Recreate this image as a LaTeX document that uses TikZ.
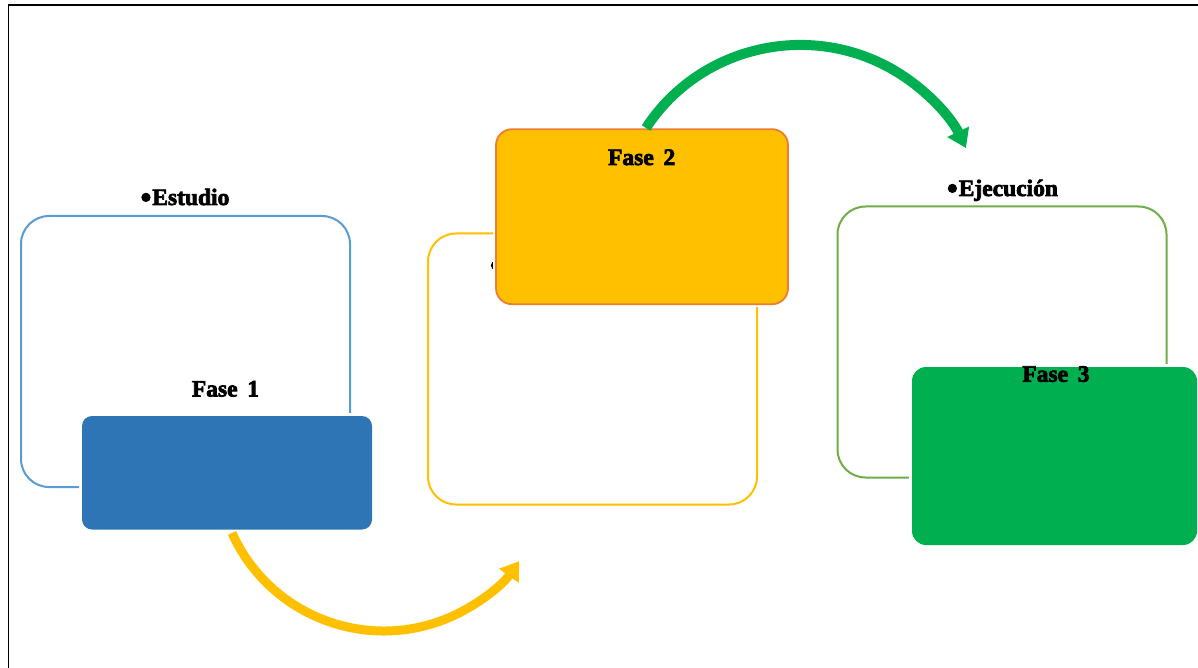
\documentclass[tikz,border=0pt]{standalone}
\usepackage{fontspec}
\setmainfont{Liberation Serif}[BoldFeatures={FakeBold=3}]
\usetikzlibrary{arrows.meta}
\definecolor{blueline}{HTML}{5B9BD5}
\definecolor{bluefill}{HTML}{2E75B6}
\definecolor{yel}{HTML}{FFC000}
\definecolor{orangeline}{HTML}{ED7D31}
\definecolor{greenfill}{HTML}{00B050}
\definecolor{greenline}{HTML}{70AD47}
\newcommand{\bigbul}{\raisebox{-2.5pt}{\scalebox{1.3}{•}}\kern1pt}
\begin{document}
\begin{tikzpicture}[x=1pt,y=-1pt,
  outlinebox/.style={draw=#1,line width=2pt,rounded corners=28pt,inner sep=0pt,minimum width=329pt,minimum height=271pt,fill=white},
  phasebox/.style={preaction={draw=white,line width=6pt},fill=#1,inner sep=0pt},
  lbl/.style={anchor=base,inner sep=0pt,font=\fontsize{23.5}{27}\selectfont\bfseries},
  arc arrow/.style={line width=9pt,draw=#1,-{Triangle[width=23pt,length=18pt]}}]
\useasboundingbox (0,0) rectangle (1198,668);
\draw[line width=1.8pt] (1198,5) -- (8.5,5) -- (8.5,668);
% outline boxes
\node[outlinebox=blueline] (b1) at (185.5,351.5) {};
\node[outlinebox=yel] (b2) at (592.5,369) {};
\node[outlinebox=greenline] (b3) at (1002,342) {};
% labels above outline boxes
\node[lbl] (t1) at (185,205) {\bigbul Estudio};
\node[lbl,anchor=base west] (t2) at (490,273) {\bigbul};
\node[lbl] (t3) at (1002.5,196) {\bigbul Ejecución};
% phase boxes
\node[phasebox=bluefill,rounded corners=10pt,minimum width=290pt,minimum height=113.5pt] (f1) at (227,472.75) {};
\node[phasebox=yel,draw=orangeline,line width=1.8pt,rounded corners=16pt,minimum width=292pt,minimum height=175pt] (f2) at (642,216.7) {};
\node[phasebox=greenfill,rounded corners=14pt,minimum width=285pt,minimum height=178pt] (f3) at (1054.5,456) {};
\node[lbl] (p1) at (225.5,396.5) {Fase\, 1};
\node[lbl] (p2) at (641.7,165) {Fase\, 2};
\node[lbl] (p3) at (1056,381.7) {Fase\, 3};
% arrows
\coordinate (ya) at (232,533);
\draw[arc arrow=yel] (ya) arc[start angle=155.7, end angle=35.5, radius=166.5];
\coordinate (ga) at (646,128);
\draw[arc arrow=greenfill,line width=10pt] (ga) arc[start angle=212.5, end angle=334.8, x radius=183, y radius=179.5];
\end{tikzpicture}
\end{document}
